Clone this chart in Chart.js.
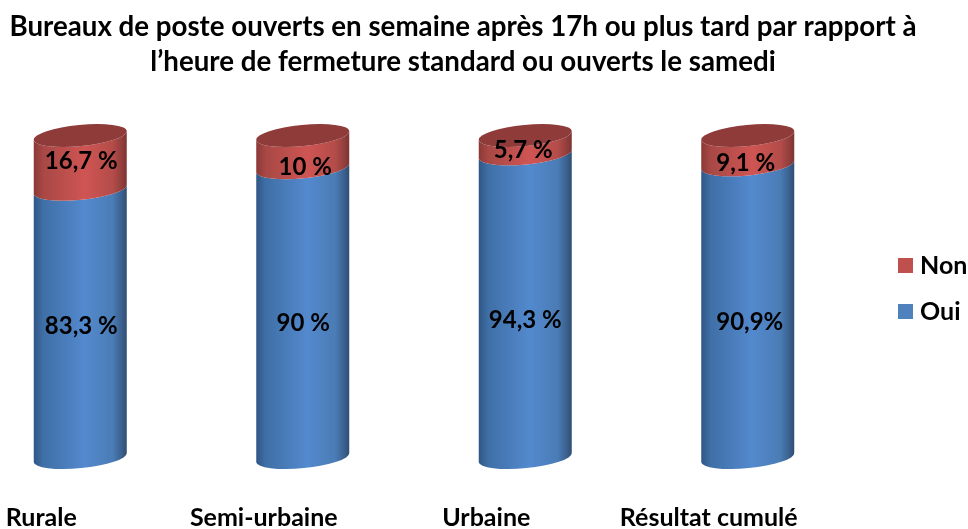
<!DOCTYPE html>
<html lang="fr">
<head>
<meta charset="utf-8">
<title>Bureaux de poste</title>
<script src="https://cdn.jsdelivr.net/npm/chart.js@4"></script>
<style>
    html, body { margin: 0; background: #fff; overflow: hidden; }
    canvas { display: block; margin-left: -31px; }
</style>
</head>
<body>
<canvas id="chart" width="999" height="529"></canvas>
<script>
// Données
const categories = ['Rurale', 'Semi-urbaine', 'Urbaine', 'Résultat cumulé'];
const ouiValues = [83.3, 90, 94.3, 90.9];
const nonValues = [16.7, 10, 5.7, 9.1];
const ouiLabels = ['83,3 %', '90 %', '94,3 %', '90,9%'];
const nonLabels = ['16,7 %', '10 %', '5,7 %', '9,1 %'];
const titleLines = [
    'Bureaux de poste ouverts en semaine après 17h ou plus tard par rapport à',
    'l’heure de fermeture standard ou ouverts le samedi'
];

// Décalage des étiquettes par rapport au centre de chaque segment
const ouiNudge = [[1, 3], [0.5, 11], [0, 15], [2, 11]];
const nonNudge = [[1, -1], [2.5, 16], [-2, 6], [-2, 13]];

const LABEL_FONT = 'bold 24px Lato';
const LEGEND_FONT = 'bold 25px Lato';
const TILT = -5.5 * Math.PI / 180;
const RY = 10.6;

// Dégradés horizontaux des cylindres
const ouiStops = [[0, '#2f5685'], [0.1, '#3f6fa6'], [0.55, '#5389ce'], [0.85, '#4a7cb5'], [0.95, '#3a5f8c'], [1, '#2e4d72']];
const nonStops = [[0, '#8a3937'], [0.1, '#a84845'], [0.55, '#cf5553'], [0.85, '#b34c49'], [0.95, '#913e3c'], [1, '#7c3432']];

function sideGradient(ctx, bar, stops) {
    const g = ctx.createLinearGradient(bar.x - bar.width / 2, 0, bar.x + bar.width / 2, 0);
    stops.forEach(s => g.addColorStop(s[0], s[1]));
    return g;
}

// Un segment : bas elliptique, haut elliptique
function drawSegment(ctx, bar, stops) {
    const rx = bar.width / 2 / Math.cos(TILT);
    ctx.beginPath();
    ctx.ellipse(bar.x, bar.base, rx, RY, TILT, 0, Math.PI);
    ctx.ellipse(bar.x, bar.y, rx, RY, TILT, Math.PI, 0, true);
    ctx.closePath();
    ctx.fillStyle = sideGradient(ctx, bar, stops);
    ctx.fill();
}

const cylinderPlugin = {
    id: 'cylinders',
    beforeDatasetsDraw(chart) {
        const ctx = chart.ctx;
        const oui = chart.getDatasetMeta(0).data;
        const non = chart.getDatasetMeta(1).data;
        ctx.save();
        oui.forEach(bar => drawSegment(ctx, bar, ouiStops));
        non.forEach(bar => {
            drawSegment(ctx, bar, nonStops);
            // Couvercle
            ctx.beginPath();
            ctx.ellipse(bar.x, bar.y, bar.width / 2 / Math.cos(TILT), RY, TILT, 0, Math.PI * 2);
            ctx.fillStyle = '#8e3b3a';
            ctx.fill();
        });
        ctx.restore();
        return false;
    },
    afterDraw(chart) {
        const ctx = chart.ctx;
        ctx.save();
        ctx.font = LABEL_FONT;
        ctx.fillStyle = '#000';
        ctx.textAlign = 'center';
        ctx.textBaseline = 'middle';
        // Étiquettes des valeurs
        [[0, ouiLabels, ouiNudge], [1, nonLabels, nonNudge]].forEach(([index, labels, nudge]) => {
            chart.getDatasetMeta(index).data.forEach((bar, i) => {
                ctx.fillText(labels[i], bar.x + nudge[i][0], (bar.y + bar.base) / 2 + nudge[i][1]);
            });
        });
        // Légende : Non au-dessus de Oui
        ctx.font = LEGEND_FONT;
        ctx.textAlign = 'left';
        [chart.data.datasets[1], chart.data.datasets[0]].forEach((ds, i) => {
            const y = 258 + i * 46;
            ctx.fillStyle = ds.backgroundColor;
            ctx.fillRect(929, y, 15, 15);
            ctx.fillStyle = '#000';
            ctx.fillText(ds.label, 951, y + 7.5);
        });
        ctx.restore();
    }
};

new Chart(document.getElementById('chart'), {
    type: 'bar',
    data: {
        labels: categories,
        datasets: [
            { label: 'Oui', data: ouiValues, backgroundColor: '#4F81BD', barThickness: 93 },
            { label: 'Non', data: nonValues, backgroundColor: '#C0504D', barThickness: 93 }
        ]
    },
    options: {
        responsive: false,
        animation: false,
        layout: { padding: { left: 0, right: 11, top: 0, bottom: 0 } },
        plugins: {
            legend: { display: false },
            tooltip: { enabled: false },
            title: {
                display: true,
                text: titleLines,
                color: '#000',
                font: { family: 'Lato', size: 27.7, weight: 'bold', lineHeight: 1.264 },
                padding: { top: 10, bottom: 55.5 }
            }
        },
        scales: {
            x: {
                stacked: true,
                grid: { display: false },
                border: { display: false },
                ticks: {
                    color: '#000',
                    font: { family: 'Lato', size: 25, weight: 'bold' },
                    padding: 37,
                    labelOffset: -39,
                    maxRotation: 0,
                    autoSkip: false
                },
                afterFit: scale => { scale.height = 71.5; }
            },
            y: {
                stacked: true,
                position: 'right',
                min: 0,
                max: 100,
                grid: { display: false },
                border: { display: false },
                ticks: { display: false },
                afterFit: scale => { scale.width = 98; }
            }
        }
    },
    plugins: [cylinderPlugin]
});
</script>
</body>
</html>
